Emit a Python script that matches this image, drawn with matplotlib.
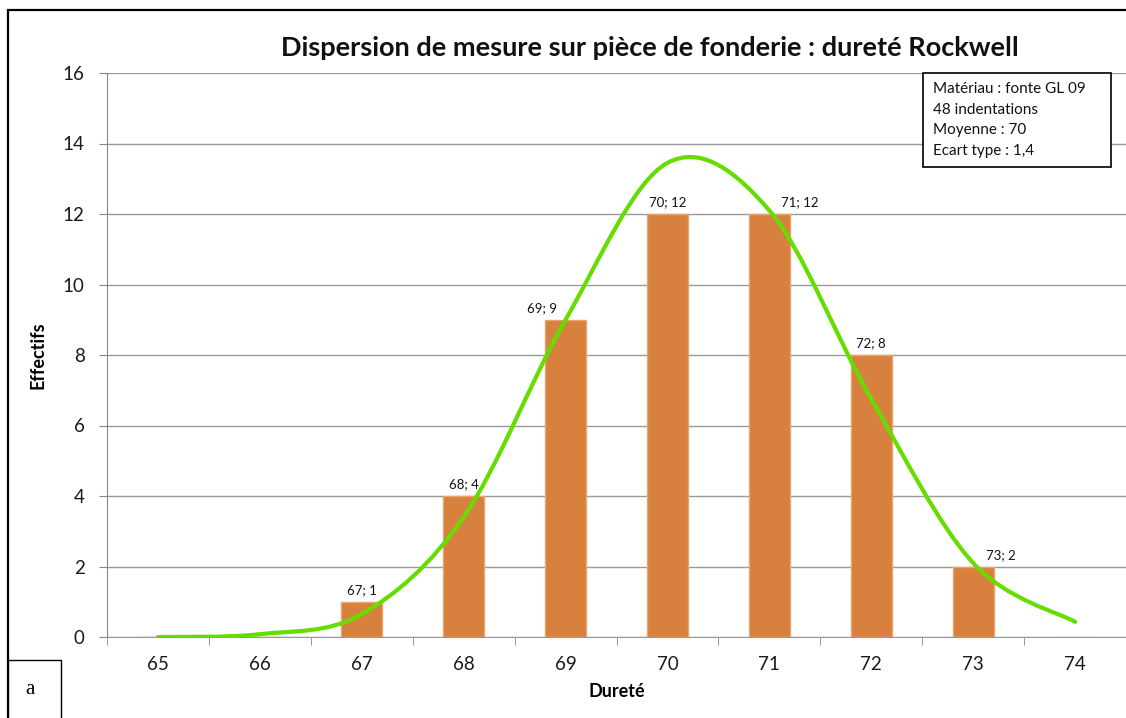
import matplotlib
matplotlib.use('Agg')
import matplotlib.pyplot as plt
from matplotlib.path import Path
from matplotlib.patches import PathPatch, Rectangle

# Dureté Rockwell mesurée (48 indentations)
durete = [65, 66, 67, 68, 69, 70, 71, 72, 73, 74]
effectifs = [0, 0, 1, 4, 9, 12, 12, 8, 2, 0]
# courbe de tendance lissée
courbe = [0.0, 0.08, 0.65, 3.4, 9.0, 13.45, 12.1, 6.75, 2.1, 0.43]
infos = ["Matériau : fonte GL 09", "48 indentations", "Moyenne : 70", "Ecart type : 1,4"]

# décalage horizontal des étiquettes (points)
decalage = {69: -17, 71: 22, 73: 20}

plt.rcParams['font.family'] = ['Lato', 'DejaVu Sans']

fig = plt.figure(figsize=(11.26, 7.18), dpi=100)
ax = fig.add_axes([107 / 1126, 1 - 637 / 718, 1 - 107 / 1126, (637 - 73) / 718])

x = list(range(len(durete)))
ax.bar(x, effectifs, width=0.4, color='#D8813F', edgecolor='#EBA46C', linewidth=1, zorder=2)

for i, v in enumerate(effectifs):
    if v == 0:
        continue
    ax.annotate(f"{durete[i]}; {v}", (i, v), xytext=(decalage.get(durete[i], 0), 4),
                textcoords='offset points', ha='center', va='bottom', fontsize=9.5, color='#111111')

# lissage type tableur : Bézier cubiques avec tangentes de Catmull-Rom
verts = [(x[0], courbe[0])]
codes = [Path.MOVETO]
n = len(x)
for i in range(n - 1):
    p0 = courbe[max(i - 1, 0)]
    p1 = courbe[i]
    p2 = courbe[i + 1]
    p3 = courbe[min(i + 2, n - 1)]
    x0 = x[max(i - 1, 0)]
    x3 = x[min(i + 2, n - 1)]
    c1 = (x[i] + (x[i + 1] - x0) / 6, p1 + (p2 - p0) / 6)
    c2 = (x[i + 1] - (x3 - x[i]) / 6, p2 - (p3 - p1) / 6)
    verts += [c1, c2, (x[i + 1], p2)]
    codes += [Path.CURVE4] * 3
ax.add_patch(PathPatch(Path(verts, codes), facecolor='none', edgecolor='#66DD00',
                       linewidth=3, capstyle='round', zorder=3))

ax.set_xlim(-0.5, len(x) - 0.5)
ax.set_ylim(0, 16)
ax.set_yticks(range(0, 17, 2))
ax.set_xticks(x)
ax.set_xticklabels([str(d) for d in durete])
ax.set_xticks([i + 0.5 for i in range(-1, len(x))], minor=True)
ax.tick_params(axis='x', which='major', length=0, pad=14, labelsize=13.5, labelcolor='#1a1a1a')
ax.tick_params(axis='x', which='minor', length=6, direction='out', color='#888888')
ax.tick_params(axis='y', length=6, direction='out', color='#888888', labelsize=13.5,
               pad=10, labelcolor='#1a1a1a')
ax.grid(axis='y', color='#999999', linewidth=1, zorder=0)
ax.set_axisbelow(True)
for s in ['top', 'right']:
    ax.spines[s].set_visible(False)
ax.spines['left'].set_color('#888888')
ax.spines['bottom'].set_color('#999999')

ax.set_xlabel("Dureté", fontsize=13, fontweight='bold', labelpad=7)
ax.set_ylabel("Effectifs", fontsize=13, fontweight='bold', labelpad=12)

fig.text(650 / 1126, 1 - 48 / 718, "Dispersion de mesure sur pièce de fonderie : dureté Rockwell",
         ha='center', va='center', fontsize=19.5, fontweight='bold', color='#111111')

# encadré d'informations
fig.patches.append(Rectangle((923 / 1126, 1 - 167 / 718), (1111 - 923) / 1126, (167 - 73) / 718,
                             transform=fig.transFigure, facecolor='white', edgecolor='black',
                             linewidth=1.2, zorder=5))
for k, ligne in enumerate(infos):
    fig.text(933 / 1126, 1 - (89 + k * 20.5) / 718, ligne, ha='left', va='center',
             fontsize=11, color='#111111', zorder=6)

# cadre extérieur et repère "a"
fig.patches.append(Rectangle((8 / 1126, -0.02), 1.1, (718 - 10) / 718 + 0.02,
                             transform=fig.transFigure, facecolor='none', edgecolor='black',
                             linewidth=1.6, zorder=7))
fig.patches.append(Rectangle((8 / 1126, -0.02), (61 - 8) / 1126, (718 - 660) / 718 + 0.02,
                             transform=fig.transFigure, facecolor='white', edgecolor='black',
                             linewidth=1.0, zorder=7))
fig.text(30 / 1126, 1 - 690 / 718, "a", ha='center', va='center', fontsize=15,
         family='Liberation Serif', zorder=8)

fig.savefig('out.png', dpi=100)
